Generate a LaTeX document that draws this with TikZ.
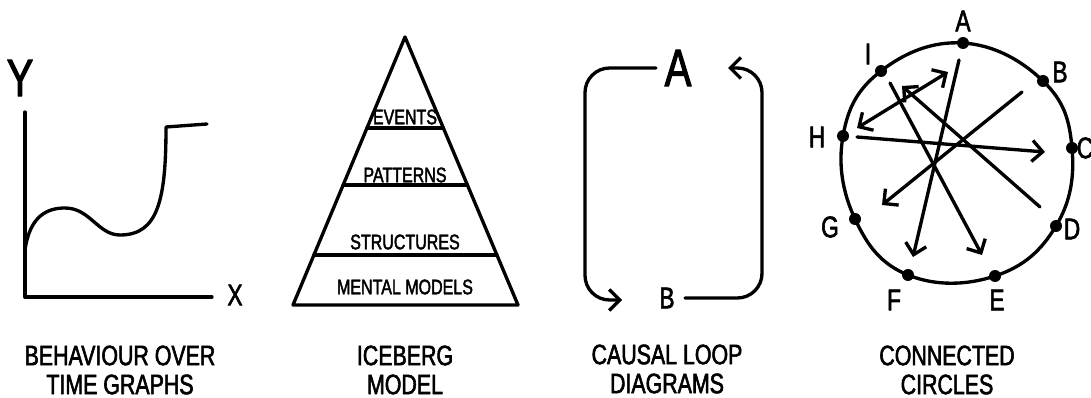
\documentclass[tikz,border=0pt]{standalone}
\usepackage{fontspec}
\setmainfont[FakeStretch=0.76,FakeBold=2]{Liberation Sans}
\usetikzlibrary{arrows.meta,calc,positioning}

\begin{document}
\begin{tikzpicture}[
    x=0.02cm, y=-0.02cm,
    line width=1.9pt,
    line cap=round,
    line join=round,
    >={Straight Barb[length=6pt,width=12pt]},
    lbl/.style={
        font=\fontsize{16}{16.5}\selectfont,
        align=center
    },
    tag/.style={font=\fontsize{12}{12}\selectfont},
    letter/.style={font=\fontsize{17}{17}\selectfont, inner sep=1pt},
    bigletter/.style={font=\fontsize{30}{30}\selectfont, inner sep=1pt},
    dot/.style={circle, fill, inner sep=0pt, minimum size=0.24cm},
    flow/.style={->, rounded corners=14}
]
\useasboundingbox (0,0) rectangle (1091,398);

\coordinate (origin) at (25,297);
\coordinate (ytop) at (25,112);
\coordinate (xend) at (212,297);
\node[bigletter] (ylab) at (20,78) {Y};
\node[letter] (xlab) at (235,295) {X};
\draw (ytop) -- (origin) -- (xend);
\draw (25,250) .. controls (30,215) and (48,208) .. (65,208)
    .. controls (90,208) and (98,235) .. (120,235)
    .. controls (158,235) and (166,200) .. (166,127) -- (207,124);

\coordinate (apex) at (405,37);
\coordinate (bl) at (293,305);
\coordinate (br) at (518,305);
\draw (apex) -- (br) -- (bl) -- cycle;
\foreach \t in {0.34,0.552,0.813}
    \draw ($(apex)!\t!(bl)$) -- ($(apex)!\t!(br)$);
\node[tag] (events) at (405,117) {EVENTS};
\node[tag] (patterns) at (405,175) {PATTERNS};
\node[tag] (structures) at (405,242) {STRUCTURES};
\node[tag] (models) at (405,287) {MENTAL MODELS};

\node[bigletter, inner sep=4pt] (a) at (678,68) {A};
\node[letter, inner sep=5pt] (b) at (667,298) {B};
\coordinate (lb) at (585,300);
\coordinate (rt) at (762,68);
\coordinate (bin) at (622,300);
\coordinate (ain) at (728,68);
\draw[flow] (a.west) -| (lb) -- (bin);
\draw[flow] (b.east) -| (rt) -- (ain);

\draw plot[smooth cycle, tension=0.7] coordinates {
    (963,43) (1043,81) (1072,148) (1056,226) (995,276)
    (908,275) (855,219) (843,136) (881,71)};
\node[dot] (pa) at (963,43) {};
\node[dot] (pb) at (1043,81) {};
\node[dot] (pc) at (1072,148) {};
\node[dot] (pd) at (1056,226) {};
\node[dot] (pe) at (995,276) {};
\node[dot] (pf) at (908,275) {};
\node[dot] (pg) at (855,219) {};
\node[dot] (ph) at (843,136) {};
\node[dot] (pi) at (881,71) {};
\node[letter] at (963,21) {A};
\node[letter] at (1060,72) {B};
\node[letter] at (1085,148) {C};
\node[letter] at (1072,229) {D};
\node[letter] at (997,300) {E};
\node[letter] at (894,300) {F};
\node[letter] at (830,227) {G};
\node[letter] at (817,137) {H};
\node[letter] at (868,54) {I};

\coordinate (s1) at (959,60);   \coordinate (e1) at (913,257);
\coordinate (s2) at (890,83);   \coordinate (e2) at (982,255);
\coordinate (s3) at (857,128);  \coordinate (e3) at (948,72);
\coordinate (s4) at (857,137);  \coordinate (e4) at (1045,152);
\coordinate (s5) at (1022,92);  \coordinate (e5) at (882,205);
\coordinate (s6) at (1040,207); \coordinate (e6) at (902,86);
\draw[->] (s1) -- (e1);
\draw[->] (s2) -- (e2);
\draw[<->] (s3) -- (e3);
\draw[->] (s4) -- (e4);
\draw[->] (s5) -- (e5);
\draw[->] (s6) -- (e6);

\node[lbl] (behaviour) at (120,370) {BEHAVIOUR OVER\\TIME GRAPHS};
\node[lbl] (iceberg) at (405,370) {ICEBERG\\MODEL};
\node[lbl] (causal) at (667,369) {CAUSAL LOOP\\DIAGRAMS};
\node[lbl] (connected) at (947,370) {CONNECTED\\CIRCLES};

\end{tikzpicture}
\end{document}
